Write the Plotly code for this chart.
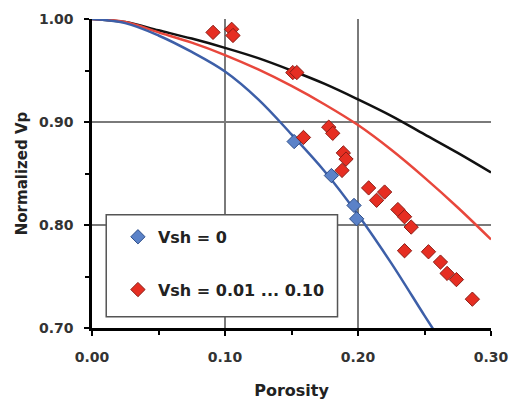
import plotly.graph_objects as go

# Model curves
curve_phi = [0.0, 0.025, 0.05, 0.075, 0.10, 0.125, 0.15, 0.175, 0.20, 0.225, 0.25, 0.275, 0.30]
black_vp = [1.0, 0.997, 0.989, 0.981, 0.972, 0.962, 0.950, 0.937, 0.922, 0.906, 0.888, 0.870, 0.851]
red_vp = [1.0, 0.997, 0.987, 0.977, 0.965, 0.951, 0.935, 0.917, 0.897, 0.873, 0.846, 0.817, 0.786]
blue_phi = [0.0, 0.025, 0.05, 0.075, 0.10, 0.125, 0.15, 0.175, 0.20, 0.225, 0.25, 0.262]
blue_vp = [1.0, 0.996, 0.984, 0.968, 0.949, 0.922, 0.888, 0.852, 0.810, 0.763, 0.712, 0.688]

# Data points
vsh0_phi = [0.152, 0.180, 0.197, 0.199]
vsh0_vp = [0.881, 0.848, 0.819, 0.806]
vsh1_phi = [0.091, 0.105, 0.106, 0.151, 0.154, 0.159, 0.178, 0.181, 0.188, 0.189, 0.191,
            0.208, 0.214, 0.220, 0.230, 0.235, 0.240, 0.235, 0.253, 0.262, 0.267, 0.274, 0.286]
vsh1_vp = [0.987, 0.990, 0.984, 0.948, 0.948, 0.885, 0.895, 0.889, 0.853, 0.870, 0.864,
           0.836, 0.824, 0.832, 0.815, 0.808, 0.798, 0.775, 0.774, 0.764, 0.753, 0.747, 0.728]

x_ticks = [0.0, 0.10, 0.20, 0.30]
x_labels = ["0.00", "0.10", "0.20", "0.30"]
y_ticks = [0.70, 0.80, 0.90, 1.00]
y_labels = ["0.70", "0.80", "0.90", "1.00"]

FONT = "DejaVu Sans"

fig = go.Figure()
fig.add_trace(go.Scatter(x=curve_phi, y=black_vp, mode="lines", line=dict(color="#111111", width=2.5, shape="spline"), showlegend=False))
fig.add_trace(go.Scatter(x=curve_phi, y=red_vp, mode="lines", line=dict(color="#e8473c", width=2.5, shape="spline"), showlegend=False))
fig.add_trace(go.Scatter(x=blue_phi, y=blue_vp, mode="lines", line=dict(color="#3d5fa8", width=2.5, shape="spline"), showlegend=False))
fig.add_trace(go.Scatter(x=vsh0_phi, y=vsh0_vp, mode="markers", name="Vsh = 0", legendgroup="a",
                         marker=dict(symbol="diamond", size=11, color="#5b82c8", line=dict(color="#2f4f8a", width=1))))
fig.add_trace(go.Scatter(x=vsh1_phi, y=vsh1_vp, mode="markers", name="Vsh = 0.01 ... 0.10", legendgroup="b",
                         marker=dict(symbol="diamond", size=11, color="#e62e22", line=dict(color="#8a1c15", width=1))))

fig.add_shape(type="rect", xref="x", yref="y", x0=0.0107, x1=0.1846, y0=0.711, y1=0.810,
              line=dict(color="#555555", width=1.5), fillcolor="white", layer="above")

fig.update_layout(
    width=511, height=400,
    margin=dict(l=92, r=20, t=19, b=72),
    paper_bgcolor="white", plot_bgcolor="white",
    font=dict(family=FONT, color="#222222"),
    legend=dict(x=0.065, y=0.35, xanchor="left", yanchor="top", bgcolor="rgba(0,0,0,0)",
                borderwidth=0, tracegroupgap=29,
                font=dict(family=FONT, size=16, color="#222222", weight="bold")),
    xaxis=dict(range=[0, 0.30], tickvals=x_ticks, ticktext=x_labels, automargin=False,
               showgrid=True, gridcolor="#7a7a7a", gridwidth=1.5,
               showline=True, linecolor="black", linewidth=2.5,
               ticks="outside", ticklen=5, tickcolor="black", tickwidth=2,
               ticklabelstandoff=9,
               tickfont=dict(family=FONT, size=14, color="#333333", weight="bold"),
               minor=dict(dtick=0.05, ticks="outside", ticklen=4, tickcolor="black", tickwidth=2, showgrid=False),
               zeroline=False,
               title=dict(text="Porosity", standoff=22, font=dict(family=FONT, size=16, color="#222222", weight="bold"))),
    yaxis=dict(range=[0.70, 1.00], tickvals=y_ticks, ticktext=y_labels, automargin=False,
               showgrid=True, gridcolor="#7a7a7a", gridwidth=1.5,
               showline=True, linecolor="black", linewidth=2.5,
               ticks="outside", ticklen=5, tickcolor="black", tickwidth=2,
               ticklabelstandoff=8,
               tickfont=dict(family=FONT, size=14, color="#333333", weight="bold"),
               minor=dict(dtick=0.05, ticks="outside", ticklen=4, tickcolor="black", tickwidth=2, showgrid=False),
               zeroline=False,
               title=dict(text="Normalized Vp", standoff=8, font=dict(family=FONT, size=15, color="#222222", weight="bold"))),
)

fig.write_html("out.html")
